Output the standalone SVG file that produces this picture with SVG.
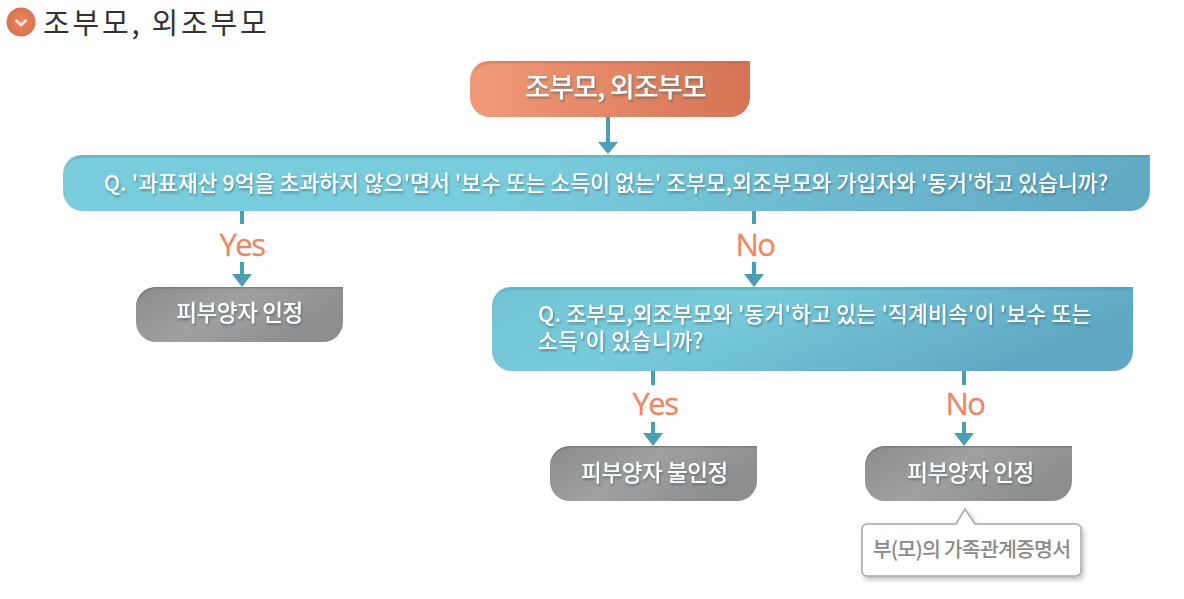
<svg xmlns="http://www.w3.org/2000/svg" width="1184" height="599" viewBox="0 0 1184 599">
<style>
text{font-family:"Noto Sans CJK KR","Noto Sans",sans-serif}
.t{fill:#fff;font-weight:500;filter:url(#ts)}
.lab{fill:#ec8763;font-family:"Open Sans","Noto Sans",sans-serif;font-size:31px;letter-spacing:-1.5px;text-anchor:middle;stroke:#ec8763;stroke-width:0.3px}
.c{stroke:#4a9fb3;stroke-width:4;fill:none}
.h{fill:#4a9fb3}
.gl{font-size:22.5px;text-anchor:middle;letter-spacing:-0.4px}
</style>
<defs>
<linearGradient id="o" x1="0" y1="0" x2="1" y2="0"><stop offset="0" stop-color="#f29a78"/><stop offset="1" stop-color="#d47454"/></linearGradient>
<linearGradient id="b" x1="0" y1="0" x2="1" y2="0.05"><stop offset="0" stop-color="#7accdc"/><stop offset="0.45" stop-color="#79ccdc"/><stop offset="1" stop-color="#62aac4"/></linearGradient>
<linearGradient id="b2" x1="0" y1="0" x2="1" y2="0.3"><stop offset="0" stop-color="#72c3d5"/><stop offset="0.4" stop-color="#78cbdb"/><stop offset="1" stop-color="#60a8c3"/></linearGradient>
<linearGradient id="g" x1="0" y1="0" x2="1" y2="0.4"><stop offset="0" stop-color="#8c8c8c"/><stop offset="0.5" stop-color="#a0a0a0"/><stop offset="1" stop-color="#8e8e8e"/></linearGradient>
<radialGradient id="ci"><stop offset="0" stop-color="#ec8560"/><stop offset="1" stop-color="#d9734f"/></radialGradient>
<filter id="ts" x="-5%" y="-30%" width="110%" height="170%"><feGaussianBlur in="SourceGraphic" stdDeviation="0.35" result="s"/><feDropShadow in="s" dx="1" dy="2" stdDeviation="1.2" flood-color="#3a5a66" flood-opacity="0.55"/></filter>
<filter id="ds" x="-5%" y="-10%" width="110%" height="130%"><feDropShadow dx="2" dy="3" stdDeviation="2.5" flood-color="#000" flood-opacity="0.25"/></filter>
<filter id="ib" x="0" y="0" width="100%" height="100%"><feOffset in="SourceAlpha" dy="2" result="of"/><feComposite in="SourceAlpha" in2="of" operator="out" result="ed"/><feGaussianBlur in="ed" stdDeviation="0.8" result="bl"/><feFlood flood-color="#4f98ad" flood-opacity="0.8"/><feComposite in2="bl" operator="in" result="sh"/><feMerge><feMergeNode in="SourceGraphic"/><feMergeNode in="sh"/></feMerge></filter>
<filter id="ig" x="0" y="0" width="100%" height="100%"><feOffset in="SourceAlpha" dy="1.5" result="of"/><feComposite in="SourceAlpha" in2="of" operator="out" result="ed"/><feGaussianBlur in="ed" stdDeviation="0.7" result="bl"/><feFlood flood-color="#707070" flood-opacity="0.7"/><feComposite in2="bl" operator="in" result="sh"/><feMerge><feMergeNode in="SourceGraphic"/><feMergeNode in="sh"/></feMerge></filter>
<filter id="io" x="0" y="0" width="100%" height="100%"><feOffset in="SourceAlpha" dy="2" result="of"/><feComposite in="SourceAlpha" in2="of" operator="out" result="ed"/><feGaussianBlur in="ed" stdDeviation="0.8" result="bl"/><feFlood flood-color="#c9684a" flood-opacity="0.8"/><feComposite in2="bl" operator="in" result="sh"/><feMerge><feMergeNode in="SourceGraphic"/><feMergeNode in="sh"/></feMerge></filter>
</defs>

<g id="heading">
<circle cx="21" cy="22" r="14.5" fill="url(#ci)"/>
<path d="M15.500 20 L21 25 L26.500 20" fill="none" stroke="#fbe9e0" stroke-width="2.500"/>
<text x="43" y="34" font-size="29" fill="#333" letter-spacing="2.8">조부모, 외조부모</text>
</g>

<g id="connectors">
<path class="c" d="M608 117V145"/><path class="h" d="M598 142H618L608 154Z"/>
<path class="c" d="M242 211V224M242 262V276"/><path class="h" d="M232 274H252L242 287Z"/>
<path class="c" d="M754 211V224M754 262V276"/><path class="h" d="M744 274H764L754 287Z"/>
<path class="c" d="M653 371V385M653 422V434"/><path class="h" d="M643 433H663L653 446Z"/>
<path class="c" d="M964 371V385M964 422V434"/><path class="h" d="M954 433H974L964 446Z"/>
<text class="lab" x="242" y="256">Yes</text>
<text class="lab" x="755" y="256">No</text>
<text class="lab" x="655" y="415">Yes</text>
<text class="lab" x="965" y="415">No</text>
</g>

<g id="n-start">
<path d="M490 61H750V97A20 20 0 0 1 730 117H490A20 20 0 0 1 470 97V81A20 20 0 0 1 490 61Z" fill="url(#o)" filter="url(#io)"/>
<text class="t" x="615.500" y="97" font-size="27" font-weight="700" text-anchor="middle" letter-spacing="-0.8">조부모, 외조부모</text>
</g>

<g id="n-q1">
<path d="M83 155H1150V191A20 20 0 0 1 1130 211H83A20 20 0 0 1 63 191V175A20 20 0 0 1 83 155Z" fill="url(#b)" filter="url(#ib)"/>
<text class="t" x="104" y="191" font-size="21.500" letter-spacing="-1.3" textLength="1003" lengthAdjust="spacing">Q. '과표재산 9억을 초과하지 않으'면서 '보수 또는 소득이 없는' 조부모,외조부모와 가입자와 '동거'하고 있습니까?</text>
</g>

<g id="n-yes1">
<path d="M156 287H343V322A20 20 0 0 1 323 342H156A20 20 0 0 1 136 322V307A20 20 0 0 1 156 287Z" fill="url(#g)" filter="url(#ig)"/>
<text class="t gl" x="239.500" y="321">피부양자 인정</text>
</g>

<g id="n-q2">
<path d="M512 287H1133V351A20 20 0 0 1 1113 371H512A20 20 0 0 1 492 351V307A20 20 0 0 1 512 287Z" fill="url(#b2)" filter="url(#ib)"/>
<text class="t" font-size="21.500" letter-spacing="-1.3"><tspan x="538" y="322" textLength="552" lengthAdjust="spacing">Q. 조부모,외조부모와 '동거'하고 있는 '직계비속'이 '보수 또는</tspan><tspan x="538" y="349" textLength="164" lengthAdjust="spacing">소득'이 있습니까?</tspan></text>
</g>

<g id="n-yes2">
<path d="M570 446H757V481A20 20 0 0 1 737 501H570A20 20 0 0 1 550 481V466A20 20 0 0 1 570 446Z" fill="url(#g)" filter="url(#ig)"/>
<text class="t gl" x="654.500" y="481">피부양자 불인정</text>
</g>

<g id="n-no2">
<path d="M885 446H1072V481A20 20 0 0 1 1052 501H885A20 20 0 0 1 865 481V466A20 20 0 0 1 885 446Z" fill="url(#g)" filter="url(#ig)"/>
<text class="t gl" x="970.500" y="481">피부양자 인정</text>
</g>

<g id="n-note">
<path d="M867 524H956L965 509L975 524H1076A5 5 0 0 1 1081 529V571A5 5 0 0 1 1076 576H867A5 5 0 0 1 862 571V529A5 5 0 0 1 867 524Z" fill="#fff" stroke="#a8a8a8" stroke-width="1.500" filter="url(#ds)"/>
<text x="971.500" y="557" font-size="20.500" fill="#8a8a8a" font-weight="500" text-anchor="middle" letter-spacing="-0.8">부(모)의 가족관계증명서</text>
</g>
</svg>
